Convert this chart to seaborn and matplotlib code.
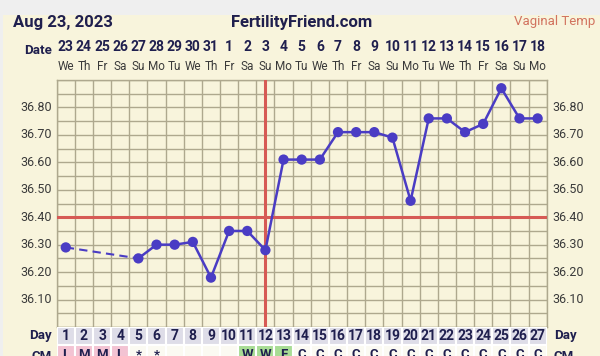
import numpy as np
import pandas as pd
import matplotlib
matplotlib.use("Agg")
import matplotlib.pyplot as plt
import seaborn as sns
from matplotlib.patches import Rectangle
from matplotlib.transforms import blended_transform_factory

# ---------------- data ----------------
cycle_days = list(range(1, 28))
dates = ["23", "24", "25", "26", "27", "28", "29", "30", "31", "1", "2", "3", "4",
         "5", "6", "7", "8", "9", "10", "11", "12", "13", "14", "15", "16", "17", "18"]
weekdays = ["We", "Th", "Fr", "Sa", "Su", "Mo", "Tu", "We", "Th", "Fr", "Sa", "Su", "Mo",
            "Tu", "We", "Th", "Fr", "Sa", "Su", "Mo", "Tu", "We", "Th", "Fr", "Sa", "Su", "Mo"]
temps = [36.29, np.nan, np.nan, np.nan, 36.25, 36.30, 36.30, 36.31, 36.18, 36.35,
         36.35, 36.28, 36.61, 36.61, 36.61, 36.71, 36.71, 36.71, 36.69, 36.46,
         36.76, 36.76, 36.71, 36.74, 36.87, 36.76, 36.76]
cm_codes = ["L", "M", "M", "L", "*", "*", "", "", "", "", "W", "W", "F"] + ["C"] * 14
coverline = 36.40
ovulation_day = 12
ytick_values = [36.10, 36.20, 36.30, 36.40, 36.50, 36.60, 36.70, 36.80]

# ---------------- style ----------------
W, H = 600, 356
cream = "#f8f4dc"
grid_c = "#aea88e"
navy = "#1f1f4e"
line_c = "#4a3cc4"
red_c = "#d65a55"

sns.set_style("white")
plt.rcParams["font.family"] = ["Roboto", "DejaVu Sans"]

fig = plt.figure(figsize=(W / 100, H / 100), dpi=100)
fig.patch.set_facecolor("#efefef")
fig.patches.append(Rectangle((3 / W, 0), 1, 1 - 15 / H, transform=fig.transFigure,
                             facecolor=cream, edgecolor="none", zorder=-10))

def fy(py):
    return 1 - py / H

ax_left, ax_right = 56.7, 546.7
ax_top, ax_bot = 80, 327
ax = fig.add_axes([ax_left / W, fy(ax_bot), (ax_right - ax_left) / W, (ax_bot - ax_top) / H])
ax.set_facecolor(cream)

df = pd.DataFrame({"day": cycle_days, "temp": temps})
valid = df.dropna()

# dashed segment across missing days
gap = valid[valid["day"] <= 5]
sns.lineplot(data=gap, x="day", y="temp", ax=ax, color=line_c, lw=1.5,
             linestyle=(0, (4, 2.5)), estimator=None, sort=False, zorder=4)
solid = valid[valid["day"] >= 5]
sns.lineplot(data=solid, x="day", y="temp", ax=ax, color=line_c, lw=1.8,
             estimator=None, sort=False, zorder=4)
sns.scatterplot(data=valid, x="day", y="temp", ax=ax, color=line_c, s=55,
                edgecolor="none", zorder=5)

ax.axhline(coverline, color=red_c, lw=2.2, zorder=3)
ax.axvline(ovulation_day, color=red_c, lw=2.2, zorder=3)

ax.set_xlim(0.5, 27.5)
ax.set_ylim(36.00, 36.90)
ax.set_xticks(np.arange(0.5, 28, 1))
ax.set_yticks(np.arange(36.0, 36.91, 0.05))
ax.grid(True, color=grid_c, lw=1.0, zorder=1)
ax.tick_params(length=0, labelbottom=False, labelleft=False)
ax.set_xlabel("")
ax.set_ylabel("")
for s in ax.spines.values():
    s.set_color(grid_c)
    s.set_linewidth(1.0)

# y labels on both sides
for v in ytick_values:
    yy = fy(ax_top + (36.90 - v) / 0.90 * (ax_bot - ax_top))
    fig.text(52 / W, yy, f"{v:.2f}", ha="right", va="center", fontsize=9, color="#3a3a3a")
    fig.text(552 / W, yy, f"{v:.2f}", ha="left", va="center", fontsize=9, color="#3a3a3a")

# header
fig.text(13 / W, fy(23), "Aug 23, 2023", ha="left", va="center", fontsize=12,
         fontweight="bold", color=navy)
fig.text(302 / W, fy(23), "FertilityFriend.com", ha="center", va="center", fontsize=12,
         fontweight="bold", color=navy)
fig.text(595 / W, fy(22), "Vaginal Temp", ha="right", va="center", fontsize=9.5,
         color="#d2735f")
fig.text(52 / W, fy(51), "Date", ha="right", va="center", fontsize=9.5,
         fontweight="bold", color=navy)

tr = blended_transform_factory(ax.transData, fig.transFigure)
for d, ds, wd in zip(cycle_days, dates, weekdays):
    ax.text(d, fy(47), ds, transform=tr, ha="center", va="center", fontsize=10,
            fontweight="bold", color=navy, clip_on=False)
    ax.text(d, fy(66), wd, transform=tr, ha="center", va="center", fontsize=8.5,
            color="#3a3a3a", clip_on=False)

# bottom table: Day row and CM row
tb_top, tb_bot = 327, 363
tab = fig.add_axes([ax_left / W, fy(tb_bot), (ax_right - ax_left) / W, (tb_bot - tb_top) / H])
tab.set_xlim(0.5, 27.5)
tab.set_ylim(0, 2)
tab.axis("off")
cm_colors = {"L": "#f3c3d3", "M": "#f3c3d3", "W": "#a8dc94", "F": "#a8dc94"}
for d, c in zip(cycle_days, cm_codes):
    tab.add_patch(Rectangle((d - 0.5, 1.0), 1, 1, facecolor="#dedde8",
                            edgecolor="white", lw=1.5))
    tab.text(d, 1.5, str(d), ha="center", va="center", fontsize=10,
             fontweight="bold", color=navy)
    tab.add_patch(Rectangle((d - 0.5, 0.0), 1, 1, facecolor=cm_colors.get(c, "#fbfaf2"),
                            edgecolor="white", lw=1.5))
    tab.text(d, 0.45, c, ha="center", va="center", fontsize=9.5,
             fontweight="bold", color=navy)

fig.text(52 / W, fy(336), "Day", ha="right", va="center", fontsize=9.5,
         fontweight="bold", color=navy)
fig.text(554 / W, fy(336), "Day", ha="left", va="center", fontsize=9.5,
         fontweight="bold", color=navy)
fig.text(52 / W, fy(357), "CM", ha="right", va="center", fontsize=9.5,
         fontweight="bold", color=navy)
fig.text(554 / W, fy(357), "CM", ha="left", va="center", fontsize=9.5,
         fontweight="bold", color=navy)

fig.savefig("out.png", dpi=100, facecolor=fig.get_facecolor())
